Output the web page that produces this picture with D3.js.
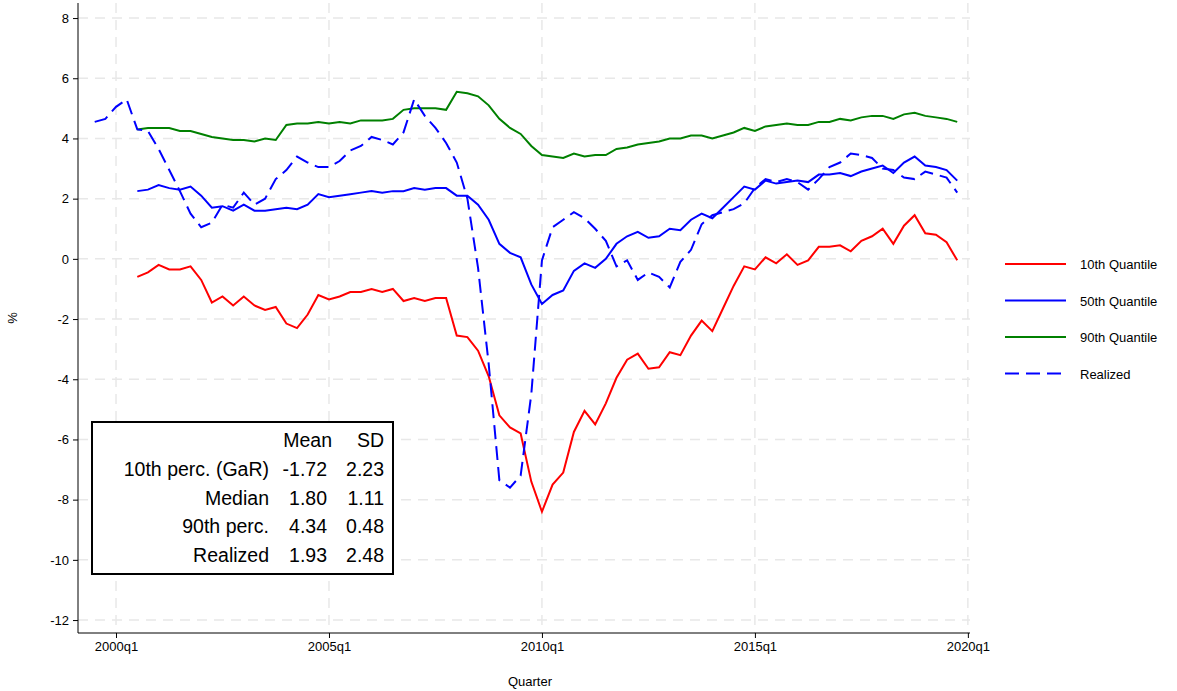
<!DOCTYPE html><html><head><meta charset="utf-8"><script src="https://cdn.jsdelivr.net/npm/d3@7"></script>
<style>body{margin:0;background:#fff;font-family:Arial,"Liberation Sans",sans-serif}</style></head><body><svg id="c" width="1177" height="691"></svg>
<script>
const q10=[-0.6,-0.45,-0.2,-0.35,-0.35,-0.25,-0.7,-1.45,-1.25,-1.55,-1.25,-1.55,-1.7,-1.6,-2.15,-2.3,-1.85,-1.2,-1.35,-1.25,-1.1,-1.1,-1.0,-1.1,-1.0,-1.4,-1.3,-1.4,-1.3,-1.3,-2.55,-2.6,-3.05,-3.9,-5.2,-5.6,-5.8,-7.4,-8.4,-7.5,-7.1,-5.75,-5.05,-5.5,-4.8,-3.95,-3.35,-3.15,-3.65,-3.6,-3.1,-3.2,-2.55,-2.05,-2.4,-1.65,-0.9,-0.25,-0.35,0.05,-0.15,0.15,-0.2,-0.05,0.4,0.4,0.45,0.25,0.6,0.75,1.0,0.5,1.1,1.45,0.85,0.8,0.55,-0.05];
const q50=[2.25,2.3,2.45,2.35,2.3,2.4,2.1,1.7,1.75,1.6,1.8,1.6,1.6,1.65,1.7,1.65,1.8,2.15,2.05,2.1,2.15,2.2,2.25,2.2,2.25,2.25,2.35,2.3,2.35,2.35,2.1,2.1,1.8,1.3,0.5,0.2,0.05,-0.85,-1.5,-1.2,-1.05,-0.4,-0.15,-0.3,0.0,0.5,0.75,0.9,0.7,0.75,1.0,0.95,1.3,1.5,1.35,1.7,2.05,2.4,2.3,2.6,2.5,2.55,2.6,2.55,2.8,2.8,2.85,2.75,2.9,3.0,3.1,2.85,3.2,3.4,3.1,3.05,2.95,2.6];
const q90=[4.3,4.35,4.35,4.35,4.25,4.25,4.15,4.05,4.0,3.95,3.95,3.9,4.0,3.95,4.45,4.5,4.5,4.55,4.5,4.55,4.5,4.6,4.6,4.6,4.65,4.95,5.0,5.0,5.0,4.95,5.55,5.5,5.4,5.1,4.65,4.35,4.15,3.75,3.45,3.4,3.35,3.5,3.4,3.45,3.45,3.65,3.7,3.8,3.85,3.9,4.0,4.0,4.1,4.1,4.0,4.1,4.2,4.35,4.25,4.4,4.45,4.5,4.45,4.45,4.55,4.55,4.65,4.6,4.7,4.75,4.75,4.65,4.8,4.85,4.75,4.7,4.65,4.55];
const realized=[4.55,4.65,5.05,5.3,4.3,4.25,3.65,2.95,2.25,1.5,1.05,1.2,1.8,1.7,2.2,1.8,2.0,2.65,2.95,3.4,3.2,3.05,3.05,3.25,3.6,3.75,4.05,3.95,3.8,4.2,5.3,4.75,4.35,3.85,3.2,2.0,-0.3,-3.5,-7.35,-7.6,-7.2,-4.5,-0.05,1.05,1.3,1.55,1.35,1.0,0.6,-0.25,-0.05,-0.7,-0.45,-0.6,-0.95,-0.1,0.3,1.15,1.45,1.55,1.65,1.85,2.35,2.65,2.55,2.65,2.55,2.3,2.65,3.05,3.2,3.5,3.45,3.35,3.0,2.95,2.7,2.65,2.9,2.8,2.7,2.2];
const qStart=2000.5, rStart=1999.5;
const yTicks=[8,6,4,2,0,-2,-4,-6,-8,-10,-12];
const xTicks=[2000,2005,2010,2015,2020];
const tableRows=[["10th perc. (GaR)","-1.72","2.23"],["Median","1.80","1.11"],["90th perc.","4.34","0.48"],["Realized","1.93","2.48"]];
const legend=[["10th Quantile","#ff0000",false],["50th Quantile","#0000ff",false],["90th Quantile","#008000",false],["Realized","#0000ff",true]];

const svg=d3.select("#c");
const x=d3.scaleLinear().domain([2000-3.57/4,2020+0.2/4]).range([78,970]);
const y=d3.scaleLinear().domain([-12.43,8.5]).range([633,3]);
const g=svg.append("g");
g.selectAll(".gy").data(yTicks).join("line").attr("x1",78).attr("x2",970).attr("y1",d=>y(d)).attr("y2",d=>y(d)).attr("stroke","#e8e8e8").attr("stroke-width",1.5).attr("stroke-dasharray","10,7");
g.selectAll(".gx").data(xTicks).join("line").attr("y1",3).attr("y2",633).attr("x1",d=>x(d)).attr("x2",d=>x(d)).attr("stroke","#e8e8e8").attr("stroke-width",1.5).attr("stroke-dasharray","10,7");
const ya=svg.append("g").attr("transform","translate(78,0)").call(d3.axisLeft(y).tickValues(yTicks).tickFormat(d=>String(d)).tickSize(5).tickPadding(4));
const xa=svg.append("g").attr("transform","translate(0,633)").call(d3.axisBottom(x).tickValues(xTicks).tickFormat(d=>d+"q1").tickSize(5).tickPadding(4));
[ya,xa].forEach(a=>{a.selectAll("text").attr("font-size",13).attr("font-family","Arial,Liberation Sans").attr("fill","#000");a.selectAll("path,line").attr("stroke","#000");});
ya.select(".domain").attr("d","M0,3V633");
xa.select(".domain").attr("d","M78,0H970");
svg.append("text").attr("transform","translate(17,318) rotate(-90)").attr("text-anchor","middle").attr("font-size",13).text("%");
svg.append("text").attr("x",530).attr("y",686).attr("text-anchor","middle").attr("font-size",13).text("Quarter");
const line=st=>d3.line().x((d,i)=>x(st+i/4)).y(d=>y(d));
[[q10,"#ff0000"],[q50,"#0000ff"],[q90,"#008000"]].forEach(([d,c])=>svg.append("path").attr("d",line(qStart)(d)).attr("fill","none").attr("stroke",c).attr("stroke-width",2));
svg.append("path").attr("d",line(rStart)(realized)).attr("fill","none").attr("stroke","#0000ff").attr("stroke-width",2).attr("stroke-dasharray","14,7");
legend.forEach((l,i)=>{const yy=264+i*36.5;
svg.append("line").attr("x1",1005).attr("x2",1066).attr("y1",yy).attr("y2",yy).attr("stroke",l[1]).attr("stroke-width",2).attr("stroke-dasharray",l[2]?"14,7":null);
svg.append("text").attr("x",1080).attr("y",yy+5).attr("font-size",13).text(l[0]);});
svg.append("rect").attr("x",92).attr("y",422).attr("width",301).attr("height",152).attr("fill","#fff").attr("stroke","#000").attr("stroke-width",2);
const fs=19.5;
svg.append("text").attr("x",332).attr("y",447).attr("text-anchor","end").attr("font-size",fs).text("Mean");
svg.append("text").attr("x",384).attr("y",447).attr("text-anchor","end").attr("font-size",fs).text("SD");
tableRows.forEach((r,i)=>{const yy=476+i*28.5;
svg.append("text").attr("x",269).attr("y",yy).attr("text-anchor","end").attr("font-size",fs).text(r[0]);
svg.append("text").attr("x",327).attr("y",yy).attr("text-anchor","end").attr("font-size",fs).text(r[1]);
svg.append("text").attr("x",384).attr("y",yy).attr("text-anchor","end").attr("font-size",fs).text(r[2]);});
</script></body></html>
